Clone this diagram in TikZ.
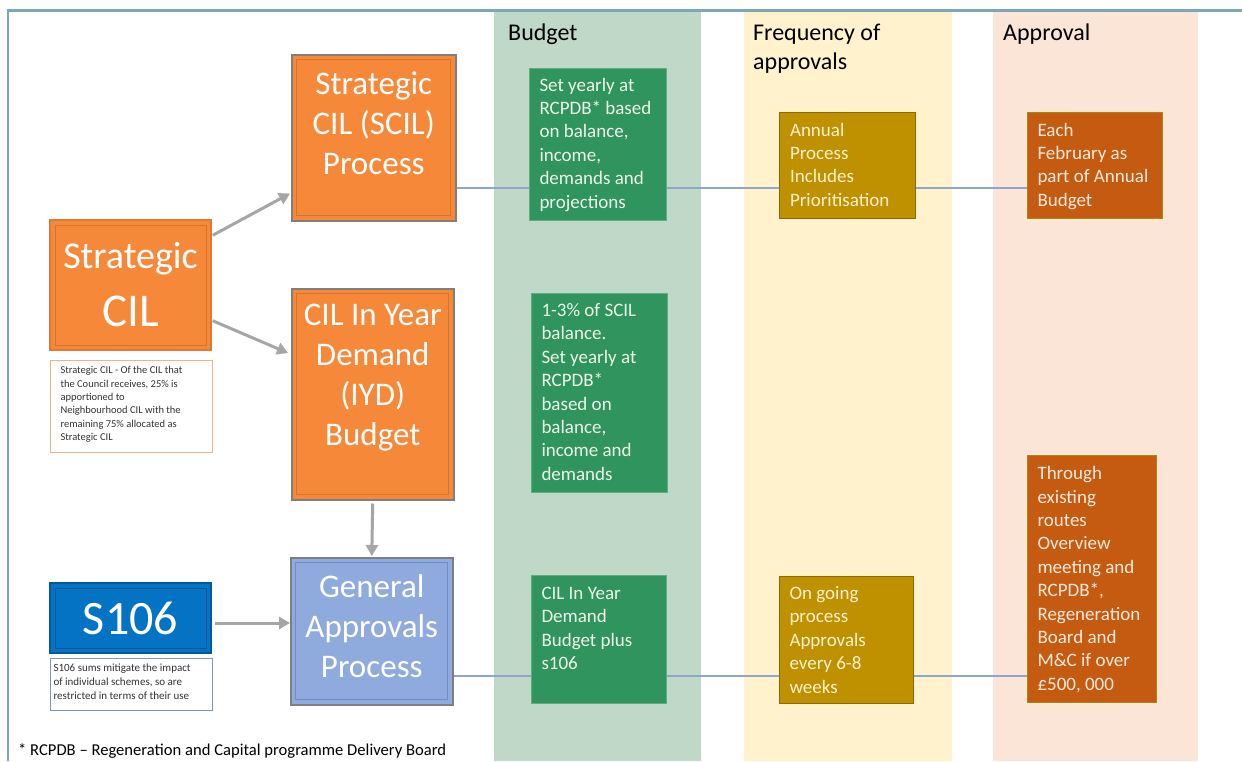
\documentclass[tikz,border=0pt]{standalone}
\usepackage{fontspec}
\setmainfont{Carlito}
\usetikzlibrary{arrows.meta,calc}
\definecolor{frameblue}{HTML}{7FA5B9}
\definecolor{colgreen}{HTML}{BFD8C8}
\definecolor{colyellow}{HTML}{FFF2CC}
\definecolor{colpeach}{HTML}{FBE5D6}
\definecolor{orng}{HTML}{F6883A}
\definecolor{orngdark}{HTML}{D9732A}
\definecolor{boxedge}{HTML}{7F7F7F}
\definecolor{gapblue}{HTML}{8FAADC}
\definecolor{gapdark}{HTML}{6F8CC4}
\definecolor{sblue}{HTML}{0573C3}
\definecolor{sbluedark}{HTML}{005A9C}
\definecolor{bgreen}{HTML}{2F945E}
\definecolor{bgreenedge}{HTML}{5FAE7E}
\definecolor{bgold}{HTML}{BF9000}
\definecolor{bgoldedge}{HTML}{8C6A00}
\definecolor{brust}{HTML}{C55A11}
\definecolor{brustedge}{HTML}{A8860F}
\definecolor{txtgreen}{HTML}{EEF7EA}
\definecolor{txtgold}{HTML}{FFF2CC}
\definecolor{txtrust}{HTML}{FCEBDD}
\definecolor{arrowgray}{HTML}{A6A6A6}
\definecolor{linkblue}{HTML}{8EA6C8}
\definecolor{noteorng}{HTML}{F4B183}
\definecolor{notegray}{HTML}{8497B0}
\definecolor{notetext}{HTML}{333333}
\newcommand{\tbx}[3]{\parbox[t][#2][t]{#1}{\raggedright #3}}
\newcommand{\cbx}[3]{\parbox[t][#2][t]{#1}{\centering #3}}
\tikzset{
  bevel/.style={path picture={\draw[#1, line width=1pt]
     ([shift={(5pt,-5pt)}]path picture bounding box.north west) rectangle
     ([shift={(-5pt,5pt)}]path picture bounding box.south east);}},
  bigbox/.style={draw=boxedge, line width=1.5pt, anchor=north west, inner xsep=0pt,
     text=white, font=\fontsize{33}{40}\selectfont},
  obox/.style={bigbox, fill=orng, bevel=orngdark},
  colbox/.style={anchor=north west, line width=1pt, font=\fontsize{19}{23.4}\selectfont},
  gbox/.style={colbox, fill=bgreen, draw=bgreenedge, text=txtgreen},
  qbox/.style={colbox, fill=bgold, draw=bgoldedge, text=txtgold},
  rbox/.style={colbox, fill=brust, draw=brustedge, text=txtrust},
  notebox/.style={anchor=north west, fill=white, line width=1pt, text=notetext},
  garrow/.style={draw=arrowgray, line width=3pt, -{Triangle[length=11pt,width=12pt]}},
  bline/.style={draw=linkblue, line width=1.2pt},
  coltitle/.style={anchor=north west, inner sep=0pt, text=black, font=\fontsize{24}{29}\selectfont, align=left}
}
\begin{document}
\begin{tikzpicture}[x=1pt,y=-1pt]
\useasboundingbox[fill=white] (0,0) rectangle (1242,761);
% frame
\draw[frameblue, line width=2.5pt] (8,761) -- (8,10.5) -- (1242,10.5);
% columns
\fill[colgreen]  (494,12) rectangle (701,761);
\fill[colyellow] (744,12) rectangle (952,761);
\fill[colpeach]  (993,12) rectangle (1198,761);
\node[coltitle] (tbud) at (508,24) {Budget};
\node[coltitle] (tfreq) at (753,24) {Frequency of\\approvals};
\node[coltitle] (tapp) at (1003,24) {Approval};

% left column
\node[draw=orng!90!black, line width=1.5pt, fill=orng, bevel=orngdark, minimum width=161pt, minimum height=130pt, text=white, inner sep=0pt] (sc) at (130.5,285)
  {\parbox{150pt}{\centering\fontsize{38}{46}\selectfont Strategic\\\fontsize{47}{58}\selectfont CIL}};
\node[notebox, draw=noteorng, inner xsep=10pt, inner ysep=6pt, font=\fontsize{10.5}{13.4}\selectfont] (scnote) at (50,360)
  {\tbx{142pt}{80pt}{Strategic CIL - Of the CIL that\\the Council receives, 25\% is\\apportioned to\\Neighbourhood CIL with the\\remaining 75\% allocated as\\Strategic CIL}};
\node[draw=sbluedark, line width=1.5pt, fill=sblue, bevel=sbluedark, minimum width=161pt, minimum height=70pt, text=white, inner sep=0pt, font=\fontsize{48}{56}\selectfont] (s106) at (130.5,618) {S106};
\node[notebox, draw=notegray, inner xsep=3pt, inner ysep=5pt, font=\fontsize{11}{14}\selectfont] (snote) at (50,658)
  {\tbx{156pt}{42pt}{S106 sums mitigate the impact\\of individual schemes, so are\\restricted in terms of their use}};

% process boxes
\node[obox, inner ysep=17pt] (scil) at (291,54) {\cbx{164pt}{132pt}{Strategic\\CIL (SCIL)\\Process}};
\node[obox, inner ysep=15pt] (iyd) at (291,288) {\cbx{162pt}{181pt}{CIL In Year\\Demand\\(IYD)\\Budget}};
\node[bigbox, fill=gapblue, bevel=gapdark, inner ysep=17pt] (gap) at (290,557) {\cbx{162pt}{113pt}{General\\Approvals\\Process}};

% budget column
\node[gbox, inner xsep=10pt, inner ysep=9.5pt] (g1) at (529,68) {\tbx{117pt}{133pt}{Set yearly at\\RCPDB* based\\on balance,\\income,\\demands and\\projections}};
\node[gbox, inner xsep=10pt, inner ysep=10pt] (g2) at (531,293) {\tbx{116pt}{179pt}{1-3\% of SCIL\\balance.\\Set yearly at\\RCPDB*\\based on\\balance,\\income and\\demands}};
\node[gbox, inner xsep=10pt, inner ysep=11.5pt] (g3) at (531,575) {\tbx{115pt}{105pt}{CIL In Year\\Demand\\Budget plus\\s106}};

% frequency column
\node[qbox, inner xsep=10.5pt, inner ysep=10.5pt] (q1) at (779,112) {\tbx{115pt}{85pt}{Annual\\Process\\Includes\\Prioritisation}};
\node[qbox, inner xsep=10pt, inner ysep=10pt] (q2) at (779,576) {\tbx{114pt}{107pt}{On going\\process\\Approvals\\every 6-8\\weeks}};

% approval column
\node[rbox, inner xsep=10pt, inner ysep=10.5pt] (r1) at (1027,112) {\tbx{115pt}{85pt}{Each\\February as\\part of Annual\\Budget}};
\node[rbox, inner xsep=10pt, inner ysep=11pt] (r2) at (1027,455) {\tbx{109pt}{225pt}{Through\\existing\\routes\\Overview\\meeting and\\RCPDB*,\\Regeneration\\Board and\\M\&C if over\\£500, 000}};

% footnote
\node[anchor=base west, inner sep=0pt, font=\fontsize{16.6}{19}\selectfont, text=black] (foot) at (18,755) {* RCPDB -- Regeneration and Capital programme Delivery Board};

% arrows
\draw[garrow] ($(sc.north east)+(1,16)$) -- ($(scil.south west)+(-1,-28)$);
\draw[garrow] ($(sc.south east)+(1,-30)$) -- ($(iyd.north west)+(-3,65)$);
\draw[garrow, shorten <=3pt, shorten >=1pt] (iyd.south) -- (gap.north);
\coordinate (ya) at (0,623);
\draw[garrow, shorten <=3pt] (s106.east |- ya) -- (gap.west |- ya);

% thin links
\coordinate (yb1) at (0,188);
\draw[bline] (scil.east |- yb1) -- (g1.west |- yb1);
\draw[bline] (g1.east |- yb1) -- (q1.west |- yb1);
\draw[bline] (q1.east |- yb1) -- (r1.west |- yb1);
\coordinate (yb2) at (0,676);
\draw[bline] (gap.east |- yb2) -- (g3.west |- yb2);
\draw[bline] (g3.east |- yb2) -- (q2.west |- yb2);
\draw[bline] (q2.east |- yb2) -- (r2.west |- yb2);
\end{tikzpicture}
\end{document}
